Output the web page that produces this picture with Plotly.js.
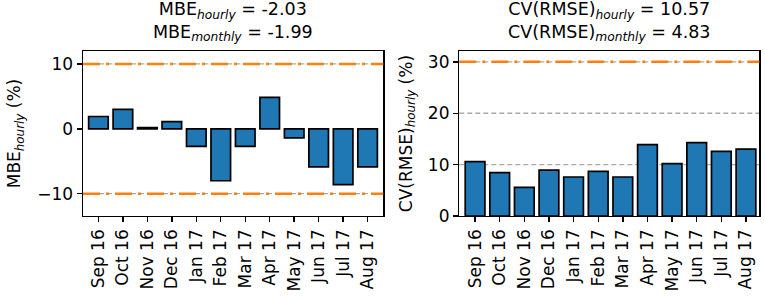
<!DOCTYPE html>
<html>
<head>
<meta charset="utf-8">
<script src="https://cdn.plot.ly/plotly-3.0.1.min.js"></script>
<style>html,body{margin:0;padding:0;background:#fff;}#chart{width:765px;height:296px;}</style>
</head>
<body>
<div id="chart"></div>
<script>
const months = ["Sep 16","Oct 16","Nov 16","Dec 16","Jan 17","Feb 17","Mar 17","Apr 17","May 17","Jun 17","Jul 17","Aug 17"];
const mbeValues = [1.9, 3.0, 0.2, 1.1, -2.7, -8.0, -2.7, 4.85, -1.4, -5.85, -8.6, -5.85];
const cvValues = [10.6, 8.45, 5.6, 8.95, 7.6, 8.7, 7.6, 13.9, 10.2, 14.3, 12.6, 13.0];
const mbeLimits = [-10, 10];
const cvLimits = [30];
const mbeGrid = [-10, 10];
const cvGrid = [10, 20, 30];
const mbeTicks = [-10, 0, 10];
const cvTicks = [0, 10, 20, 30];

const font = {family: "DejaVu Sans, sans-serif", size: 17, color: "#000"};
const titleFont = {family: "DejaVu Sans, sans-serif", size: 17.5, color: "#000"};
const xIdx = months.map((m, i) => i);

const barStyle = {color: "#1f77b4", line: {color: "#000", width: 1.7}};
const traces = [
  {type: "bar", x: xIdx, y: mbeValues, width: 0.8, marker: barStyle, xaxis: "x", yaxis: "y", hoverinfo: "skip"},
  {type: "bar", x: xIdx, y: cvValues, width: 0.8, marker: barStyle, xaxis: "x2", yaxis: "y2", hoverinfo: "skip"}
];

const shapes = [];
function hline(xr, yr, y, color, dash, width, layer) {
  shapes.push({type: "line", xref: xr + " domain", yref: yr, x0: 0, x1: 1, y0: y, y1: y,
    line: {color: color, dash: dash, width: width}, layer: layer});
}
mbeGrid.forEach(v => hline("x", "y", v, "#aaaaaa", "5px,3px", 1.3, "below"));
cvGrid.forEach(v => hline("x2", "y2", v, "#aaaaaa", "5px,3px", 1.3, "below"));
mbeLimits.forEach(v => hline("x", "y", v, "#ff7f0e", "17px,6px,3px,6px", 2.6, "above"));
cvLimits.forEach(v => hline("x2", "y2", v, "#ff7f0e", "17px,6px,3px,6px", 2.6, "above"));

const xCommon = {
  tickmode: "array", tickvals: xIdx, ticktext: months, tickangle: -90,
  ticks: "outside", ticklen: 5, tickwidth: 1.4, tickcolor: "#000",
  showline: true, linecolor: "#000", linewidth: 1.4, mirror: true,
  showgrid: false, zeroline: false, tickfont: font
};
const yCommon = {
  ticks: "outside", ticklen: 5, tickwidth: 1.4, tickcolor: "#000",
  showline: true, linecolor: "#000", linewidth: 1.4, mirror: true,
  showgrid: false, zeroline: false, tickfont: font, tickmode: "array"
};

const layout = {
  width: 765, height: 296,
  margin: {l: 0, r: 0, t: 0, b: 0},
  paper_bgcolor: "#fff", plot_bgcolor: "#fff",
  showlegend: false, font: font,
  xaxis: Object.assign({}, xCommon, {domain: [0.1085, 0.501], range: [-0.63, 11.64], anchor: "y"}),
  yaxis: Object.assign({}, yCommon, {domain: [0.27, 0.8277], range: [-13.45, 12.0], anchor: "x",
    tickvals: mbeTicks, ticktext: ["−10", "0", "10"],
    title: {text: "MBE<sub><i>hourly</i></sub> (%)", font: font, standoff: 12}}),
  xaxis2: Object.assign({}, xCommon, {domain: [0.6004, 0.9925], range: [-0.64, 11.54], anchor: "y2"}),
  yaxis2: Object.assign({}, yCommon, {domain: [0.27, 0.8277], range: [0, 32.1], anchor: "x2",
    tickvals: cvTicks, ticktext: cvTicks.map(String),
    title: {text: "CV(RMSE)<sub><i>hourly</i></sub> (%)", font: font, standoff: 11}}),
  shapes: shapes,
  annotations: [
    {xref: "x domain", yref: "paper", x: 0.5, y: 1.01, yanchor: "top", showarrow: false, font: titleFont,
     text: "MBE<sub><i>hourly</i></sub> = -2.03<br>MBE<sub><i>monthly</i></sub> = -1.99"},
    {xref: "x2 domain", yref: "paper", x: 0.5, y: 1.01, yanchor: "top", showarrow: false, font: titleFont,
     text: "CV(RMSE)<sub><i>hourly</i></sub> = 10.57<br>CV(RMSE)<sub><i>monthly</i></sub> = 4.83"}
  ]
};

Plotly.newPlot("chart", traces, layout, {staticPlot: true, displayModeBar: false});
</script>
</body>
</html>
